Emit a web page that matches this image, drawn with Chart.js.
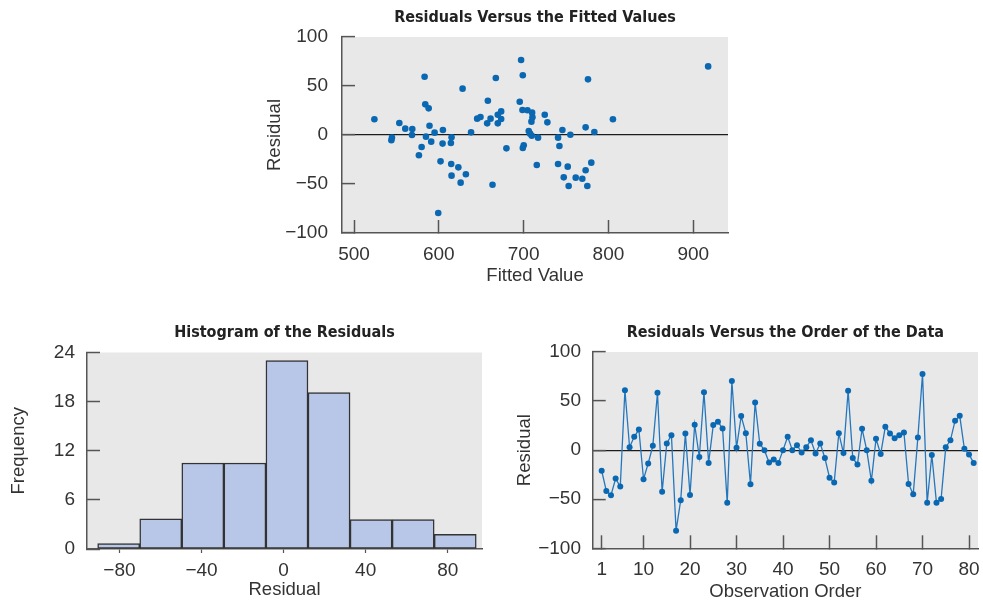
<!DOCTYPE html>
<html>
<head>
<meta charset="utf-8">
<script src="https://cdn.jsdelivr.net/npm/chart.js@4/dist/chart.umd.min.js"></script>
<style>
  body { margin: 0; background: #fff; }
  canvas { position: absolute; }
</style>
</head>
<body>
<canvas id="fitChart" width="520" height="300" style="left:240px;top:0"></canvas>
<canvas id="histChart" width="500" height="301" style="left:0;top:300px"></canvas>
<canvas id="orderChart" width="483" height="301" style="left:500px;top:300px"></canvas>
<script>
// Residuals against fitted values
const fittedValues = [524, 544, 544.7, 553.4, 560.4, 568.7, 568.3, 576.5, 579.7, 583.2, 584, 588, 584.8, 589, 591, 595, 599.3, 602, 604.4, 604.8,
    614.2, 615, 614.6, 615, 623, 625.7, 628, 631.9, 638, 645.2, 649.1, 657.8, 657, 661, 663.3, 667.2, 669.5, 669.5, 673.5, 673.5,
    679.7, 695.4, 697, 699, 698.6, 700.1, 699, 704.5, 706, 707.6, 709.6, 709.2, 710.4, 710, 715.5, 717, 724.9, 728, 740.6, 742.2,
    740.6, 745.7, 747.3, 752, 753.1, 755.1, 761.4, 769.2, 773.1, 775.9, 773.1, 775.1, 779.8, 783.4, 805.3, 917.6];
const fitResiduals = [16, -5.4, -2.7, 12.2, 6.5, 6.1, 0, -20.7, -12.2, 59.5, 31.3, 27.2, -1.7, 9.5, -6.8, 2.4, -79.6, -26.9, -8.8, 5.1,
    -8.2, -2.4, -29.6, -41.5, -33, -48.6, 47.3, -40.1, 2.7, 16.7, 18.4, 35, 11.9, 16.7, -50.7, 58.2, 11.9, 20.7, 24.1, 16.3,
    -13.6, 34, 76.5, 60.9, 25.5, -10.5, -13.3, 25.2, 4.1, 1.4, -0.7, 13.6, 18, 22.8, -30.6, -2.7, 20.7, 12.9, -2.7, -11.2,
    -29.6, 5.1, -43.2, -32.3, -52, 0.3, -43.5, -44.6, 7.8, 56.8, -36, -52, -28.2, 3.1, 16, 70];
const fittedTicks = [500, 600, 700, 800, 900];
const residualTicks = [-100, -50, 0, 50, 100];

// Histogram bins (centres) and counts
const binCenters = [-80.35, -59.85, -39.35, -18.85, 1.65, 22.15, 42.65, 63.15, 83.65];
const binCounts = [0.65, 3.7, 10.5, 10.5, 23, 19.1, 3.6, 3.6, 1.8];
const binTicks = [-80, -40, 0, 40, 80];
const frequencyTicks = [0, 6, 12, 18, 24];

// Residuals in observation order (observation 1..81)
const orderResiduals = [-21, -41.5, -46, -29, -37, 61, 3, 13.6, 21, -29.6,
    -13.6, 4.4, 58.5, -42.5, 6.8, 15.3, -82, -51, 17, -45.6,
    25.9, -7, 59, -13, 25.5, 29, 22, -53.7, 70.4, 2.4,
    34.7, 17.3, -34.7, 48.6, 6.5, 0, -12.6, -9.5, -13, 0,
    13.6, 0, 5, -2.4, 3, 10, -3.4, 6.8, -8, -28,
    -33, 17.3, -3, 60.5, -8, -14.6, 21.8, 0, -31.3, 11.6,
    -4, 23.8, 17, 12, 15.3, 18, -34.4, -45, 13, 77.6,
    -53.7, -5, -53.7, -49.7, 3, 10, 30, 35, 1.4, -4.4, -13];
const orderTicks = [1, 10, 20, 30, 40, 50, 60, 70, 80];

Chart.defaults.font.family = '"Liberation Sans", Arial, sans-serif';
Chart.defaults.font.size = 19;
Chart.defaults.color = '#333';
Chart.defaults.animation = false;

const AXIS = '#555';
const DOT = '#0a68b2';
const TITLE_FONT = { family: '"DejaVu Sans Condensed", "Liberation Sans", sans-serif', size: 16, weight: 'bold' };
const AXIS_TITLE_FONT = { size: 18.5, lineHeight: 1 };

const withMinus = v => String(v).replace('-', '\u2212');
const fixedTicks = values => scale => { scale.ticks = values.map(v => ({ value: v })); };
const zeroLine = c => (c.tick && c.tick.value === 0) ? '#1c1c1c' : 'rgba(0,0,0,0)';
// fixed box size, and no extra room for labels hanging past the plot edges
const fixHeight = h => s => { s.height = h; s.paddingLeft = 0; s.paddingRight = 0; };
const fixWidth = w => s => { s.width = w; s.paddingTop = 0; s.paddingBottom = 0; };

// grey plot panel behind the marks
const plotBackground = {
    id: 'plotBackground',
    beforeDraw(chart) {
        const { ctx, chartArea: a } = chart;
        ctx.save();
        ctx.fillStyle = '#e8e8e8';
        ctx.fillRect(a.left, a.top, a.right - a.left, a.bottom - a.top);
        ctx.restore();
    }
};

// Top panel: scatter of residuals vs fitted values
new Chart(document.getElementById('fitChart'), {
    type: 'scatter',
    data: {
        datasets: [{
            data: fittedValues.map((x, i) => ({ x: x, y: fitResiduals[i] })),
            backgroundColor: DOT,
            borderWidth: 0,
            pointRadius: 3.3
        }]
    },
    options: {
        responsive: false,
        layout: { padding: { left: 0, right: 32, top: 0, bottom: 0 } },
        plugins: {
            legend: { display: false },
            tooltip: { enabled: false },
            title: { display: true, text: 'Residuals Versus the Fitted Values', fullSize: false,
                     font: TITLE_FONT, color: '#222', padding: { top: 8, bottom: 9.8 } }
        },
        scales: {
            x: {
                type: 'linear', min: 485.8, max: 941,
                afterBuildTicks: fixedTicks(fittedTicks),
                afterFit: fixHeight(67),
                border: { display: true, color: AXIS, width: 1.5 },
                grid: { drawOnChartArea: false, tickLength: -13, tickColor: AXIS, tickWidth: 1.5 },
                ticks: { padding: 23.5, maxRotation: 0 },
                title: { display: true, text: 'Fitted Value', font: AXIS_TITLE_FONT, padding: { top: 0, bottom: 15 } }
            },
            y: {
                min: -100, max: 100,
                afterBuildTicks: fixedTicks(residualTicks),
                afterFit: fixWidth(102),
                border: { display: true, color: AXIS, width: 1.5 },
                grid: { color: zeroLine, lineWidth: 1.2, tickLength: -13, tickColor: AXIS, tickWidth: 1.5 },
                ticks: { padding: 27, callback: withMinus },
                title: { display: true, text: 'Residual', font: AXIS_TITLE_FONT, padding: { top: 26, bottom: 0 } }
            }
        }
    },
    plugins: [plotBackground]
});

// Bottom left: histogram of the residuals
new Chart(document.getElementById('histChart'), {
    type: 'bar',
    data: {
        datasets: [{
            data: binCenters.map((c, i) => ({ x: c, y: binCounts[i] })),
            backgroundColor: '#b8c7e7',
            borderColor: '#333',
            borderWidth: 1.5,
            borderSkipped: false,
            barPercentage: 1,
            categoryPercentage: 1
        }]
    },
    options: {
        responsive: false,
        layout: { padding: { left: 0, right: 18, top: 0, bottom: 0 } },
        plugins: {
            legend: { display: false },
            tooltip: { enabled: false },
            title: { display: true, text: 'Histogram of the Residuals', fullSize: false,
                     font: TITLE_FONT, color: '#222', padding: { top: 23, bottom: 10.3 } }
        },
        scales: {
            x: {
                type: 'linear', min: -95.8, max: 96.7, offset: false,
                afterBuildTicks: fixedTicks(binTicks),
                afterFit: fixHeight(52),
                border: { display: true, color: AXIS, width: 1.5 },
                grid: { offset: false, drawOnChartArea: false, tickLength: 4, tickColor: AXIS, tickWidth: 1.2 },
                ticks: { padding: 6, maxRotation: 0, callback: withMinus },
                title: { display: true, text: 'Residual', font: AXIS_TITLE_FONT, padding: { top: 0, bottom: 2 } }
            },
            y: {
                min: 0, max: 24,
                afterBuildTicks: fixedTicks(frequencyTicks),
                afterFit: fixWidth(87),
                border: { display: true, color: AXIS, width: 1.5 },
                grid: { drawOnChartArea: false, tickLength: -13, tickColor: AXIS, tickWidth: 1.5 },
                ticks: { padding: 25 },
                title: { display: true, text: 'Frequency', font: AXIS_TITLE_FONT, padding: { top: 10, bottom: 0 } }
            }
        }
    },
    plugins: [plotBackground]
});

// Bottom right: residuals in observation order
new Chart(document.getElementById('orderChart'), {
    type: 'line',
    data: {
        datasets: [{
            data: orderResiduals.map((r, i) => ({ x: i + 1, y: r })),
            borderColor: '#2577bd',
            borderWidth: 1.3,
            backgroundColor: DOT,
            pointBackgroundColor: DOT,
            pointBorderWidth: 0,
            pointRadius: 3,
            tension: 0,
            fill: false
        }]
    },
    options: {
        responsive: false,
        layout: { padding: { left: 0, right: 5, top: 0, bottom: 0 } },
        plugins: {
            legend: { display: false },
            tooltip: { enabled: false },
            title: { display: true, text: 'Residuals Versus the Order of the Data', fullSize: false,
                     font: TITLE_FONT, color: '#222', padding: { top: 23, bottom: 9.8 } }
        },
        scales: {
            x: {
                type: 'linear', min: -0.93, max: 81.93,
                afterBuildTicks: fixedTicks(orderTicks),
                afterFit: fixHeight(52.7),
                border: { display: true, color: AXIS, width: 1.5 },
                grid: { drawOnChartArea: false, tickLength: -13, tickColor: AXIS, tickWidth: 1.5 },
                ticks: { padding: 23, maxRotation: 0 },
                title: { display: true, text: 'Observation Order', font: AXIS_TITLE_FONT, padding: { top: 0, bottom: 0 } }
            },
            y: {
                min: -100, max: 100,
                afterBuildTicks: fixedTicks(residualTicks),
                afterFit: fixWidth(92.7),
                border: { display: true, color: AXIS, width: 1.5 },
                grid: { color: zeroLine, lineWidth: 1.2, tickLength: -13, tickColor: AXIS, tickWidth: 1.5 },
                ticks: { padding: 24.7, callback: withMinus },
                title: { display: true, text: 'Residual', font: AXIS_TITLE_FONT, padding: { top: 16, bottom: 0 } }
            }
        }
    },
    plugins: [plotBackground]
});
</script>
</body>
</html>
